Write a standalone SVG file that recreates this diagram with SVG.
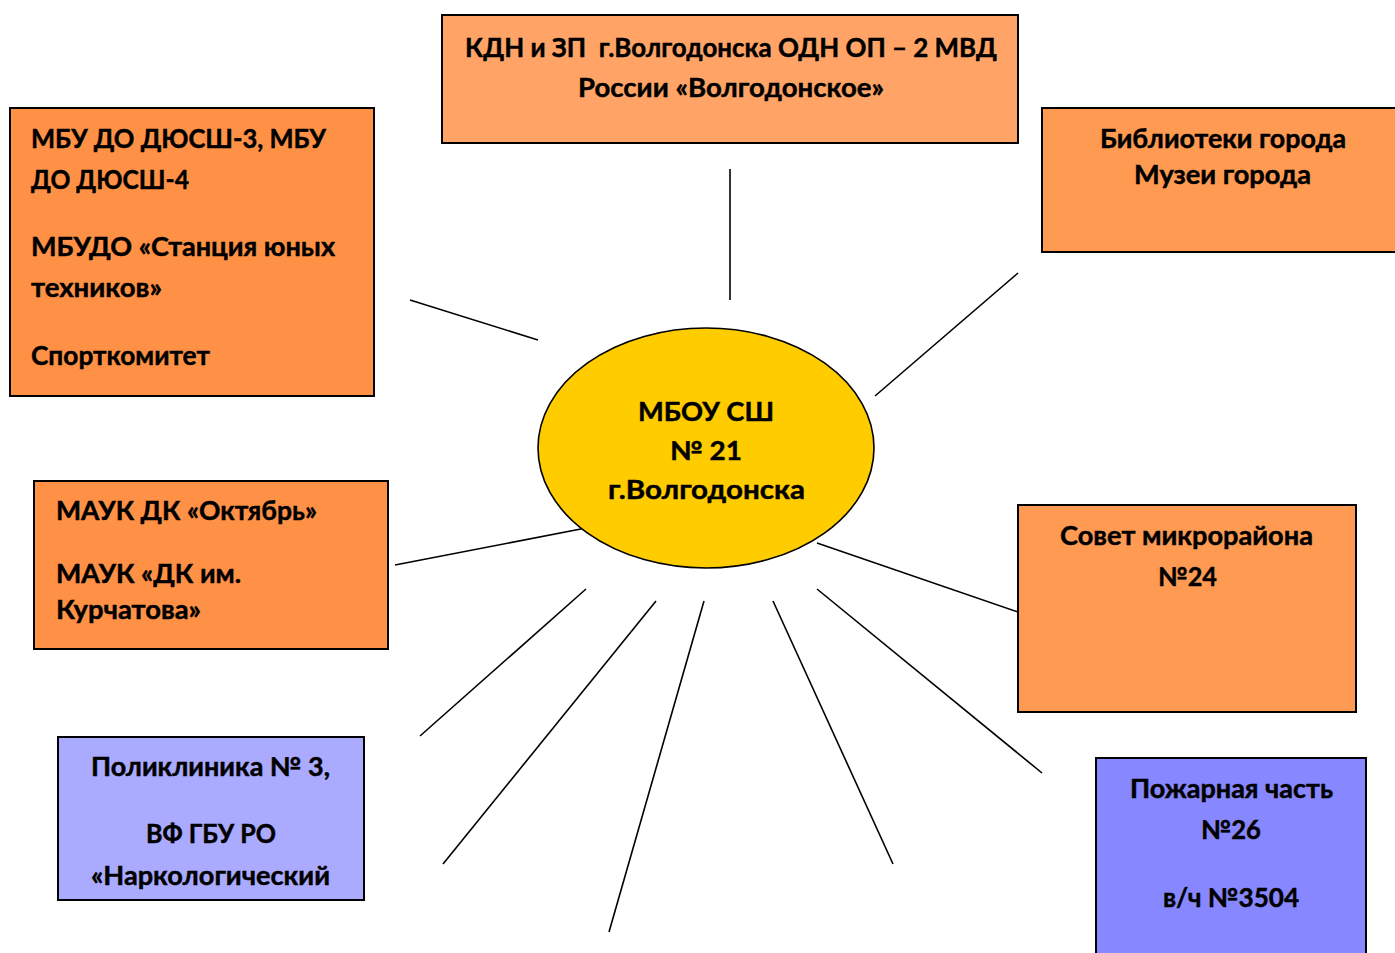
<svg xmlns="http://www.w3.org/2000/svg" width="1395" height="953" viewBox="0 0 1395 953">
<style>
.box{stroke:#000;stroke-width:2}
.t{font-family:Lato,"Open Sans","Liberation Sans",sans-serif;font-weight:bold;font-size:26px;fill:#000;stroke:#000;stroke-width:0.45;white-space:pre}
.c line{stroke:#000;stroke-width:1.6}
</style>
<rect width="1395" height="953" fill="#fff"/>
<g class="c" id="connectors">
<line x1="730" y1="169" x2="730" y2="300"/>
<line x1="410" y1="300" x2="538" y2="340"/>
<line x1="1018" y1="273" x2="875" y2="396"/>
<line x1="395" y1="565" x2="586" y2="528"/>
<line x1="817" y1="543" x2="1018" y2="612"/>
<line x1="586" y1="589" x2="420" y2="736"/>
<line x1="656" y1="601" x2="443" y2="864"/>
<line x1="704" y1="601" x2="609" y2="932"/>
<line x1="773" y1="601" x2="893" y2="864"/>
<line x1="817" y1="589" x2="1042" y2="773"/>
</g>
<g id="kdn">
<rect class="box" x="442" y="15" width="576" height="128" fill="#FFA466"/>
<text class="t" x="465" y="57" textLength="532" lengthAdjust="spacingAndGlyphs" xml:space="preserve">КДН и ЗП  г.Волгодонска ОДН ОП – 2 МВД</text>
<text class="t" x="578" y="97" textLength="306" lengthAdjust="spacingAndGlyphs">России «Волгодонское»</text>
</g>
<g id="sport">
<rect class="box" x="10" y="108" width="364" height="288" fill="#FF9146"/>
<text class="t" x="31" y="148" textLength="295" lengthAdjust="spacingAndGlyphs">МБУ ДО ДЮСШ-3, МБУ</text>
<text class="t" x="31" y="189" textLength="158" lengthAdjust="spacingAndGlyphs">ДО ДЮСШ-4</text>
<text class="t" x="31" y="256" textLength="304" lengthAdjust="spacingAndGlyphs">МБУДО «Станция юных</text>
<text class="t" x="31" y="297" textLength="131" lengthAdjust="spacingAndGlyphs">техников»</text>
<text class="t" x="31" y="365" textLength="179" lengthAdjust="spacingAndGlyphs">Спорткомитет</text>
</g>
<g id="library">
<rect class="box" x="1042" y="108" width="360" height="144" fill="#FF9A52"/>
<text class="t" x="1100" y="148" textLength="246" lengthAdjust="spacingAndGlyphs">Библиотеки города</text>
<text class="t" x="1134" y="184" textLength="177" lengthAdjust="spacingAndGlyphs">Музеи города</text>
</g>
<g id="dk">
<rect class="box" x="34" y="481" width="354" height="168" fill="#FF9146"/>
<text class="t" x="56" y="520" textLength="261" lengthAdjust="spacingAndGlyphs">МАУК ДК «Октябрь»</text>
<text class="t" x="56" y="583" textLength="185" lengthAdjust="spacingAndGlyphs">МАУК «ДК им.</text>
<text class="t" x="56" y="619" textLength="145" lengthAdjust="spacingAndGlyphs">Курчатова»</text>
</g>
<g id="sovet">
<rect class="box" x="1018" y="505" width="338" height="207" fill="#FF9A52"/>
<text class="t" x="1060" y="545" textLength="253" lengthAdjust="spacingAndGlyphs">Совет микрорайона</text>
<text class="t" x="1158" y="586" textLength="59" lengthAdjust="spacingAndGlyphs">№24</text>
</g>
<g id="poly">
<rect class="box" x="58" y="737" width="306" height="163" fill="#AAAAFF"/>
<text class="t" x="91" y="776" textLength="239" lengthAdjust="spacingAndGlyphs">Поликлиника № 3,</text>
<text class="t" x="146" y="843" textLength="130" lengthAdjust="spacingAndGlyphs">ВФ ГБУ РО</text>
<text class="t" x="91" y="885" textLength="239" lengthAdjust="spacingAndGlyphs">«Наркологический</text>
</g>
<g id="fire">
<rect class="box" x="1096" y="758" width="270" height="210" fill="#8787FF"/>
<text class="t" x="1130" y="798" textLength="203" lengthAdjust="spacingAndGlyphs">Пожарная часть</text>
<text class="t" x="1201" y="839" textLength="60" lengthAdjust="spacingAndGlyphs">№26</text>
<text class="t" x="1163" y="907" textLength="136" lengthAdjust="spacingAndGlyphs">в/ч №3504</text>
</g>
<g id="school">
<ellipse cx="706" cy="448" rx="168" ry="120" fill="#FFCC00" stroke="#000" stroke-width="1.6"/>
<text class="t" x="638" y="421" textLength="136" lengthAdjust="spacingAndGlyphs">МБОУ СШ</text>
<text class="t" x="670" y="460" textLength="72" lengthAdjust="spacingAndGlyphs">№ 21</text>
<text class="t" x="608" y="499" textLength="197" lengthAdjust="spacingAndGlyphs">г.Волгодонска</text>
</g>
</svg>
